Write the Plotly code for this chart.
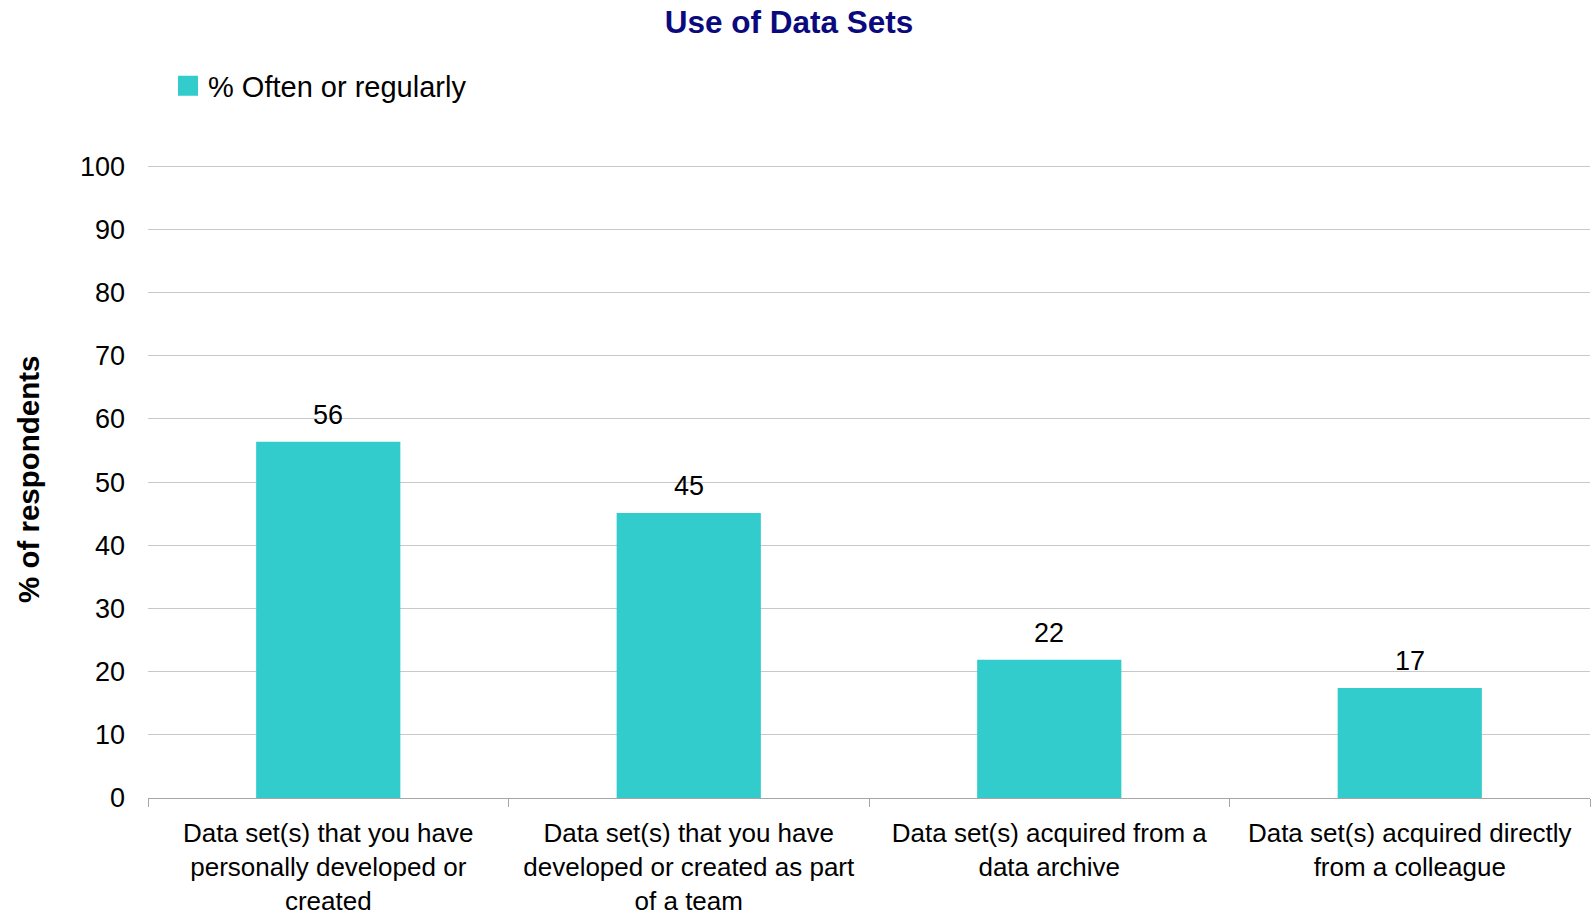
import plotly.graph_objects as go

categories = [
    "Data set(s) that you have<br>personally developed or<br>created",
    "Data set(s) that you have<br>developed or created as part<br>of a team",
    "Data set(s) acquired from a<br>data archive",
    "Data set(s) acquired directly<br>from a colleague",
]
values = [56.4, 45.1, 21.9, 17.4]
series_name = "% Often or regularly"
y_ticks = [0, 10, 20, 30, 40, 50, 60, 70, 80, 90, 100]

FONT = "Arial, Liberation Sans, sans-serif"
BAR = "#33CCCC"

W, H = 1592, 915
ML, MR, MT, MB = 148, 2, 160, 117
PW = W - ML - MR

fig = go.Figure()
fig.add_trace(go.Bar(
    x=categories, y=values, marker=dict(color=BAR, line=dict(width=0)),
    showlegend=False, name=series_name,
))
fig.add_trace(go.Scatter(
    x=[None], y=[None], mode="markers", name=series_name,
    marker=dict(symbol="square", size=16, color=BAR, line=dict(width=4, color=BAR)),
))

annotations = [
    dict(x=c, y=v, xref="x", yref="y", text=f"{v:.0f}", showarrow=False,
         yanchor="middle", yshift=27, font=dict(size=27, family=FONT, color="black"))
    for c, v in zip(categories, values)
]
annotations.append(dict(text="<b>% of respondents</b>", textangle=-90,
                        xref="paper", yref="paper", x=-(ML-28)/PW, y=0.5,
                        xanchor="center", yanchor="middle", showarrow=False,
                        font=dict(size=29.5, family=FONT, color="black")))

fig.update_layout(
    width=W, height=H,
    paper_bgcolor="white", plot_bgcolor="white",
    margin=dict(l=ML, r=MR, t=MT, b=MB, autoexpand=False),
    font=dict(family=FONT, color="black"),
    title=dict(text="<b>Use of Data Sets</b>", x=789/W, xanchor="center",
               y=1-22/H, yanchor="middle", yref="container",
               font=dict(size=31.5, color="#0A0A7E", family=FONT)),
    showlegend=True,
    legend=dict(orientation="h", xref="container", yref="container",
                x=168/W, y=1-86/H, xanchor="left", yanchor="middle",
                font=dict(size=29, family=FONT), itemsizing="trace",
                bgcolor="rgba(0,0,0,0)"),
    bargap=0.6,
    xaxis=dict(showgrid=False, showline=True, linecolor="#A6A6A6", linewidth=1,
               ticks="outside", tickson="boundaries", ticklen=8, tickcolor="#A6A6A6",
               ticklabelstandoff=12, automargin=False,
               tickfont=dict(size=26, family=FONT, color="black"), zeroline=False),
    yaxis=dict(range=[0, 101], tickvals=y_ticks, showgrid=True, gridcolor="#C8C8C8",
               gridwidth=1, showline=False, zeroline=False, ticks="",
               ticklabelstandoff=22, automargin=False,
               tickfont=dict(size=27, family=FONT, color="black")),
    annotations=annotations,
)

fig.write_html(
    "out.html",
    config={"displayModeBar": False},
    post_script="document.body.style.margin='0';document.body.style.overflow='hidden';",
)
